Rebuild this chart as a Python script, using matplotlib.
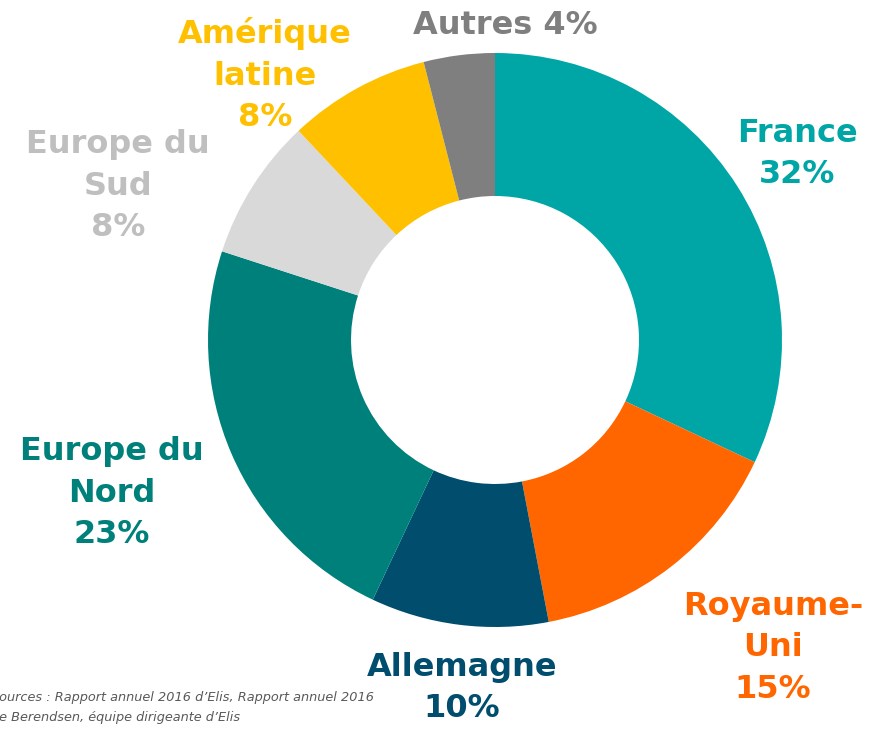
import matplotlib.pyplot as plt

regions = ["France", "Royaume-\nUni", "Allemagne", "Europe du\nNord",
           "Europe du\nSud", "Amérique\nlatine", "Autres"]
shares = [32, 15, 10, 23, 8, 8, 4]
colors = ["#00A6A6", "#FF6600", "#004D6E", "#00807B", "#D9D9D9", "#FFC000", "#7F7F7F"]
label_colors = ["#00A6A6", "#FF6600", "#004D6E", "#00807B", "#BFBFBF", "#FFC000", "#7F7F7F"]
# label block centres in pixel coordinates (x, y from top)
label_pos = [(797, 154), (773, 648), (462, 688), (112, 493), (118, 186), (265, 75), (505, 25)]

W, H = 886, 729
fig = plt.figure(figsize=(W / 100, H / 100), dpi=100)
ax = fig.add_axes([0, 0, 1, 1])

cx, cy, r = 495, H - 340, 287
ax.pie(shares, colors=colors, startangle=90, counterclock=False,
       center=(cx, cy), radius=r, frame=True,
       wedgeprops=dict(width=143, edgecolor="none"))
ax.set_xlim(0, W)
ax.set_ylim(0, H)
ax.axis("off")

for name, val, col, (px, py) in zip(regions, shares, label_colors, label_pos):
    if name == "Autres":
        txt = f"{name} {val}%"
    else:
        txt = f"{name}\n{val}%"
    ax.text(px, H - py, txt, color=col, fontsize=23, fontweight="bold",
            ha="center", va="center", linespacing=1.45)

# source note, cut at the left edge as in the original
fig.text(-9 / W, 1 - 697 / H, "Sources : Rapport annuel 2016 d\u2019Elis, Rapport annuel 2016",
         fontsize=9.3, style="italic", color="#595959", va="center", ha="left")
fig.text(-9 / W, 1 - 717 / H, "de Berendsen, équipe dirigeante d\u2019Elis",
         fontsize=9.3, style="italic", color="#595959", va="center", ha="left")

fig.savefig("out.png", dpi=100)
